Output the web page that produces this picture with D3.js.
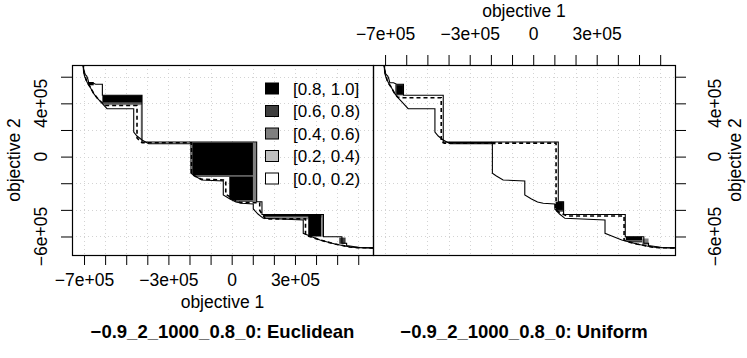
<!DOCTYPE html>
<html><head><meta charset="utf-8">
<script src="https://cdn.jsdelivr.net/npm/d3@7"></script>
<style>
body{margin:0;background:#fff}
text{font-family:"Liberation Sans",Arial,Helvetica,sans-serif;fill:#000}
</style>
</head><body>
<svg id="chart" width="747" height="358"></svg>
<script>
// ---------------- DATA ----------------
const xTicks = [-7e5,-6e5,-5e5,-4e5,-3e5,-2e5,-1e5,0,1e5,2e5,3e5,4e5,5e5,6e5];
const xTickLabels = ["\u22127e+05","","","","\u22123e+05","","","0","","","3e+05","","",""];
const yTicks = [6e5,4e5,2e5,0,-2e5,-4e5,-6e5];
const yTickLabels = ["","4e+05","","0","","","\u22126e+05"];
const legendLabels = ["[0.8, 1.0]","[0.6, 0.8)","[0.4, 0.6)","[0.2, 0.4)","[0.0, 0.2)"];
const legendLevels = [4,3,2,1,0];
const panelTitles = ["\u22120.9_2_1000_0.8_0: Euclidean","\u22120.9_2_1000_0.8_0: Uniform"];
const axisTitleX = "objective 1";
const axisTitleY = "objective 2";

// grand best attainment surface (both panels)
const bestLine = [
  [-705000,700000],[-702000,635000],[-697600,605000],[-690500,575000],[-681000,545000],
  [-671500,522700],[-654000,472400],[-638300,440100],[-619400,410000],[-591000,359700],
  [-464400,359700],[-464400,184700],[-448800,154700],[-425100,124700],[-393300,96900],
  [-192900,96900],[-192900,-125400],[-173900,-145700],[-142200,-175700],[-39800,-183200],
  [-39800,-288400],[-8100,-318400],[20400,-341000],[47400,-350700],[102400,-356000],
  [102400,-393500],[124600,-431100],[149800,-463400],[339300,-476100],[339300,-576000],
  [371100,-596300],[418500,-626300],[489500,-656400],[560600,-678900],[600000,-684200],
  [700000,-686400]
];
// grand worst attainment surface (both panels)
const worstLine = [
  [-705000,700000],[-698500,622600],[-687200,605300],[-682400,585000],[-677700,555000],
  [-660000,555000],[-645000,543000],[-613000,543000],[-613000,460400],[-425100,460400],
  [-425100,109600],[118500,109600],[118500,-338700],[143600,-338700],[143600,-434800],
  [435000,-434800],[435000,-601500],[522700,-601500],[522700,-651100],[545000,-651100],
  [545000,-667700],[608000,-682600],[700000,-686400]
];
// median attainment surfaces
const euclideanMedian = [
  [-705000,700000],[-698000,630000],[-690500,580000],[-681000,548000],[-671500,525000],
  [-654000,474000],[-638300,442000],[-619400,412000],[-600000,383800],[-448800,383800],
  [-448800,139700],[-425000,104000],[-190500,104000],[-190500,-132000],[-170000,-150000],
  [-142000,-170000],[-28000,-176000],[-28000,-283000],[0,-310000],[40000,-346000],
  [133000,-346000],[133000,-405000],[160000,-468000],[350000,-468000],[350000,-590000],
  [380000,-605000],[418500,-626300],[489500,-656400],[560600,-678900],[600000,-684200],
  [700000,-686400]
];
const uniformMedian = [
  [-705000,700000],[-698500,622600],[-690500,575000],[-681000,545000],[-671500,522700],
  [-654000,472400],[-640000,446000],[-613000,442300],[-434600,442300],[-434600,112000],
  [-420000,101000],[108000,101000],[108000,-338700],[105000,-345000],[105000,-400000],
  [130000,-425000],[161100,-446100],[429400,-446100],[429400,-628000],[450000,-640000],
  [489500,-656400],[560600,-678900],[600000,-684200],[700000,-686400]
];
// difference regions: [x1, x2, y1, y2, level]  (level 4 = [0.8,1.0] ... 0 = [0.0,0.2))
const euclideanRegions = [
  [-681000,-654000,535500,560200,4],
  [-613000,-425100,410000,460400,4],
  [-613000,-425100,396000,410000,3],
  [-613000,-425100,386000,396000,2],
  [-432000,-425100,120000,386000,1],
  [-187000,100900,-140000,106000,4],
  [-187000,100900,-152000,-140000,3],
  [-11400,100900,-328000,-152000,4],
  [-11400,100900,-340000,-328000,3],
  [100900,118500,-338700,107400,2],
  [150000,435000,-446000,-438600,4],
  [150000,435000,-458000,-446000,3],
  [150000,363000,-472000,-458000,2],
  [363000,425000,-596300,-438600,4],
  [363000,425000,-601500,-596300,3],
  [425000,435000,-601500,-438600,2],
  [510000,540000,-655000,-608000,3]
];
const uniformRegions = [
  [-652000,-613000,460000,543000,3],
  [-645000,-616000,468000,535000,4],
  [-410000,-178000,101000,109600,4],
  [-410000,-178000,92000,101000,3],
  [105700,143600,-413800,-338700,3],
  [108000,140000,-400000,-342000,4],
  [437400,515000,-630000,-601500,4],
  [437400,515000,-645000,-630000,3],
  [515000,545000,-662000,-615000,2]
];

// ---------------- DRAWING ----------------
const levelColor = ["#FFFFFF","#BFBFBF","#7F7F7F","#3F3F3F","#000000"];
const svg = d3.select("#chart");
const yTop = 65, yBottom = 255;
const xDomain = [-757000, 670000], yDomain = [-739000, 688000];
const yScale = d3.scaleLinear().domain(yDomain).range([yBottom, yTop]);
const FS = 17.5;

const panels = [
  {x0:72, x1:373, regions:euclideanRegions, median:euclideanMedian, title:panelTitles[0], side:"left"},
  {x0:373, x1:675, regions:uniformRegions, median:uniformMedian, title:panelTitles[1], side:"right"}
];

panels.forEach((p, pi) => {
  const x = d3.scaleLinear().domain(xDomain).range([p.x0, p.x1]);
  const y = yScale;
  const line = d3.line().x(d => x(d[0])).y(d => y(d[1]));
  const defs = svg.append("defs");
  defs.append("clipPath").attr("id","box"+pi)
    .append("rect").attr("x",p.x0).attr("y",yTop).attr("width",p.x1-p.x0).attr("height",yBottom-yTop);
  const poly = bestLine.concat([[900000,-686400],[900000,900000],[-705000,900000]]);
  defs.append("clipPath").attr("id","above"+pi)
    .append("path").attr("d", line(poly) + "Z");

  const g = svg.append("g").attr("clip-path","url(#box"+pi+")");
  // grid
  g.selectAll(".gx").data(xTicks).join("line")
    .attr("x1",d=>Math.round(x(d))+0.5).attr("x2",d=>Math.round(x(d))+0.5)
    .attr("y1",yTop).attr("y2",yBottom)
    .attr("stroke","#d3d3d3").attr("stroke-dasharray","1,3");
  g.selectAll(".gy").data(yTicks).join("line")
    .attr("y1",d=>Math.round(y(d))+0.5).attr("y2",d=>Math.round(y(d))+0.5)
    .attr("x1",p.x0).attr("x2",p.x1)
    .attr("stroke","#d3d3d3").attr("stroke-dasharray","1,3");
  // fills
  const gf = g.append("g").attr("clip-path","url(#above"+pi+")");
  gf.selectAll("rect").data(p.regions).join("rect")
    .attr("x",d=>x(d[0])).attr("width",d=>x(d[1])-x(d[0]))
    .attr("y",d=>y(d[3])).attr("height",d=>y(d[2])-y(d[3]))
    .attr("fill",d=>levelColor[d[4]]);
  // lines
  [bestLine, worstLine].forEach(L => {
    g.append("path").attr("d", line(L)).attr("fill","none").attr("stroke","#000").attr("stroke-width",1.1);
  });
  g.append("path").attr("d", line(p.median)).attr("fill","none").attr("stroke","#000")
    .attr("stroke-width",1.6).attr("stroke-dasharray","4,3");

  // axes
  if (p.side === "left") {
    const ax = svg.append("g").attr("transform",`translate(0,${yBottom})`)
      .call(d3.axisBottom(x).tickValues(xTicks).tickFormat((d,i)=>xTickLabels[i]).tickSize(10).tickSizeOuter(0).tickPadding(9));
    ax.select(".domain").remove();
    ax.selectAll("text").attr("font-size",FS).attr("font-family","Liberation Sans, Arial, sans-serif");
    const ay = svg.append("g").attr("transform",`translate(${p.x0},0)`)
      .call(d3.axisLeft(y).tickValues(yTicks).tickFormat("").tickSize(11).tickSizeOuter(0));
    ay.select(".domain").remove();
    svg.selectAll(".ylabL").data(yTicks).join("text")
      .attr("transform",d=>`translate(47,${y(d)}) rotate(-90)`)
      .attr("text-anchor","middle").attr("font-size",FS)
      .text((d,i)=>yTickLabels[i]);
    svg.append("text").attr("x",(p.x0+p.x1)/2).attr("y",308).attr("text-anchor","middle")
      .attr("font-size",FS).text(axisTitleX);
    svg.append("text").attr("transform",`translate(20,${(yTop+yBottom)/2}) rotate(-90)`)
      .attr("text-anchor","middle").attr("font-size",FS).text(axisTitleY);
  } else {
    const ax = svg.append("g").attr("transform",`translate(0,${yTop})`)
      .call(d3.axisTop(x).tickValues(xTicks).tickFormat((d,i)=>xTickLabels[i]).tickSize(10).tickSizeOuter(0).tickPadding(15));
    ax.select(".domain").remove();
    ax.selectAll("text").attr("font-size",FS).attr("font-family","Liberation Sans, Arial, sans-serif");
    const ay = svg.append("g").attr("transform",`translate(${p.x1},0)`)
      .call(d3.axisRight(y).tickValues(yTicks).tickFormat("").tickSize(11).tickSizeOuter(0));
    ay.select(".domain").remove();
    svg.selectAll(".ylabR").data(yTicks).join("text")
      .attr("transform",d=>`translate(720.5,${y(d)}) rotate(-90)`)
      .attr("text-anchor","middle").attr("font-size",FS)
      .text((d,i)=>yTickLabels[i]);
    svg.append("text").attr("x",(p.x0+p.x1)/2).attr("y",17).attr("text-anchor","middle")
      .attr("font-size",FS).text(axisTitleX);
    svg.append("text").attr("transform",`translate(741,${(yTop+yBottom)/2}) rotate(-90)`)
      .attr("text-anchor","middle").attr("font-size",FS).text(axisTitleY);
  }
  // title
  svg.append("text").attr("x",(p.x0+p.x1)/2).attr("y",338).attr("text-anchor","middle")
    .attr("font-size",18.5).attr("font-weight","bold").text(p.title);

  // box
  svg.append("rect").attr("x",p.x0+0.5).attr("y",yTop+0.5).attr("width",p.x1-p.x0).attr("height",yBottom-yTop)
    .attr("fill","none").attr("stroke","#000").attr("stroke-width",1.2);

  // legend in left panel
  if (pi === 0) {
    const lg = svg.append("g");
    legendLabels.forEach((lab, i) => {
      const cy = 88.5 + i*22.5;
      lg.append("rect").attr("x",265.5).attr("y",cy-5.5).attr("width",13).attr("height",11)
        .attr("fill",levelColor[legendLevels[i]]).attr("stroke","#000").attr("stroke-width",1);
      lg.append("text").attr("x",293).attr("y",cy).attr("dy","0.36em").attr("font-size",17).text(lab);
    });
  }
});
</script>
</body></html>
